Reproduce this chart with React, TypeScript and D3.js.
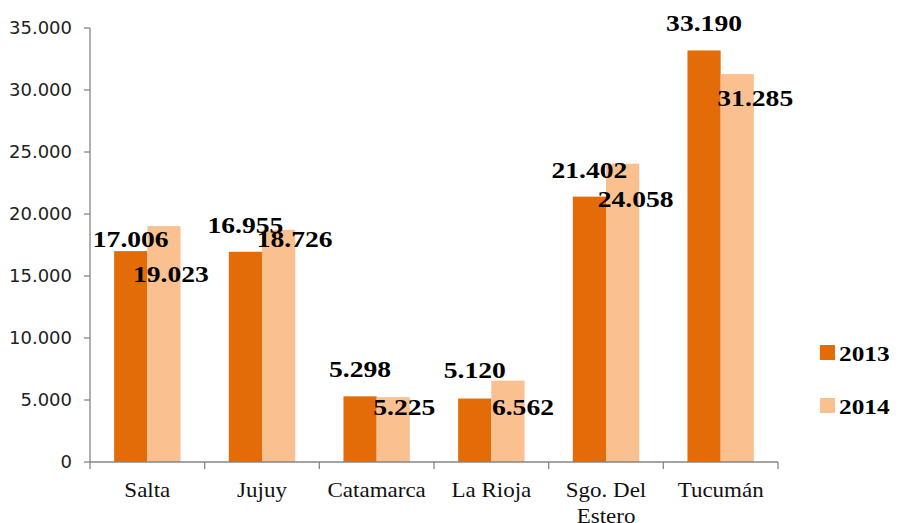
import React from 'react'
import * as d3 from 'd3'

// Data
const categories = ['Salta', 'Jujuy', 'Catamarca', 'La Rioja', 'Sgo. Del Estero', 'Tucumán']
const categoryLines = [['Salta'], ['Jujuy'], ['Catamarca'], ['La Rioja'], ['Sgo. Del', 'Estero'], ['Tucumán']]
const seriesNames = ['2013', '2014']
const values2013 = [17006, 16955, 5298, 5120, 21402, 33190]
const values2014 = [19023, 18726, 5225, 6562, 24058, 31285]
const yTicks = [0, 5000, 10000, 15000, 20000, 25000, 30000, 35000]

// label nudges (pixels, relative to bar top centre), placed by hand in the original
const nudge2013 = [[0, -4], [0, -19], [0, -19], [0, -21], [0, -19], [0, -19]]
const nudge2014 = [[7, 56], [16, 17], [11, 18], [15, 34], [13, 43], [18, 32]]

const colors = ['#E36C09', '#FAC090']
const width = 898
const height = 523
const stretch = 1.15

const fmt = (v: number) => d3.format(',')(v).replace(/,/g, '.')

export default function App() {
    // Scales
    const xScale = d3.scaleBand<string>().domain(categories).range([90, 778]).paddingInner(0).paddingOuter(0)
    const inner = d3.scaleBand<string>().domain(seriesNames).range([0, xScale.bandwidth()]).paddingInner(0).paddingOuter(0.727)
    const yScale = d3.scaleLinear().domain([0, 35000]).range([462, 28])

    const series = [values2013, values2014]
    const nudges = [nudge2013, nudge2014]
    const axisColor = '#868686'

    return (
        <svg width={width} height={height} style={{ position: 'absolute', left: 0, top: 0, background: '#fff' }}>
            {/* Bars */}
            {series.map((vals, s) =>
                vals.map((v, i) => (
                    <rect
                        key={`b${s}-${i}`}
                        x={(xScale(categories[i]) as number) + (inner(seriesNames[s]) as number)}
                        y={yScale(v)}
                        width={inner.bandwidth()}
                        height={yScale(0) - yScale(v)}
                        fill={colors[s]}
                    />
                ))
            )}

            {/* Y axis */}
            <line x1={90} x2={90} y1={yScale(35000)} y2={yScale(0)} stroke={axisColor} strokeWidth={1.3} />
            {yTicks.map(t => (
                <g key={`yt${t}`}>
                    <line x1={84} x2={90} y1={yScale(t)} y2={yScale(t)} stroke={axisColor} strokeWidth={1.3} />
                    <text x={72} y={yScale(t)} dy="0.36em" textAnchor="end" fontFamily="DejaVu Sans" fontSize={18} fill="#222">
                        {t === 0 ? '0' : fmt(t)}
                    </text>
                </g>
            ))}

            {/* X axis */}
            <line x1={90} x2={778} y1={yScale(0)} y2={yScale(0)} stroke={axisColor} strokeWidth={1.3} />
            {categories.concat(['end']).map((c, i) => {
                const xt = 90 + i * xScale.step()
                return <line key={`xt${i}`} x1={xt} x2={xt} y1={yScale(0)} y2={yScale(0) + 7} stroke={axisColor} strokeWidth={1.3} />
            })}
            {categories.map((c, i) => {
                const cx = (xScale(c) as number) + xScale.bandwidth() / 2
                return categoryLines[i].map((ln, k) => (
                    <text
                        key={`cl${i}-${k}`}
                        transform={`translate(${cx},${497 + k * 26}) scale(${stretch},1)`}
                        textAnchor="middle"
                        fontFamily="Liberation Serif"
                        fontSize={20}
                        fill="#111"
                    >
                        {ln}
                    </text>
                ))
            })}

            {/* Data labels */}
            {series.map((vals, s) =>
                vals.map((v, i) => {
                    const cx = (xScale(categories[i]) as number) + (inner(seriesNames[s]) as number) + inner.bandwidth() / 2
                    const [dx, dy] = nudges[s][i]
                    return (
                        <text
                            key={`l${s}-${i}`}
                            transform={`translate(${cx + dx},${yScale(v) + dy}) scale(${stretch},1)`}
                            textAnchor="middle"
                            fontFamily="Liberation Serif"
                            fontWeight="bold"
                            fontSize={24}
                            fill="#000"
                        >
                            {fmt(v)}
                        </text>
                    )
                })
            )}

            {/* Legend */}
            {seriesNames.map((n, s) => (
                <g key={`lg${n}`} transform={`translate(820,${345 + s * 53})`}>
                    <rect x={0} y={0} width={15} height={15} fill={colors[s]} />
                    <text transform={`translate(19,15.5) scale(${stretch},1)`} fontFamily="Liberation Serif" fontWeight="bold" fontSize={22} fill="#000">
                        {n}
                    </text>
                </g>
            ))}
        </svg>
    )
}
